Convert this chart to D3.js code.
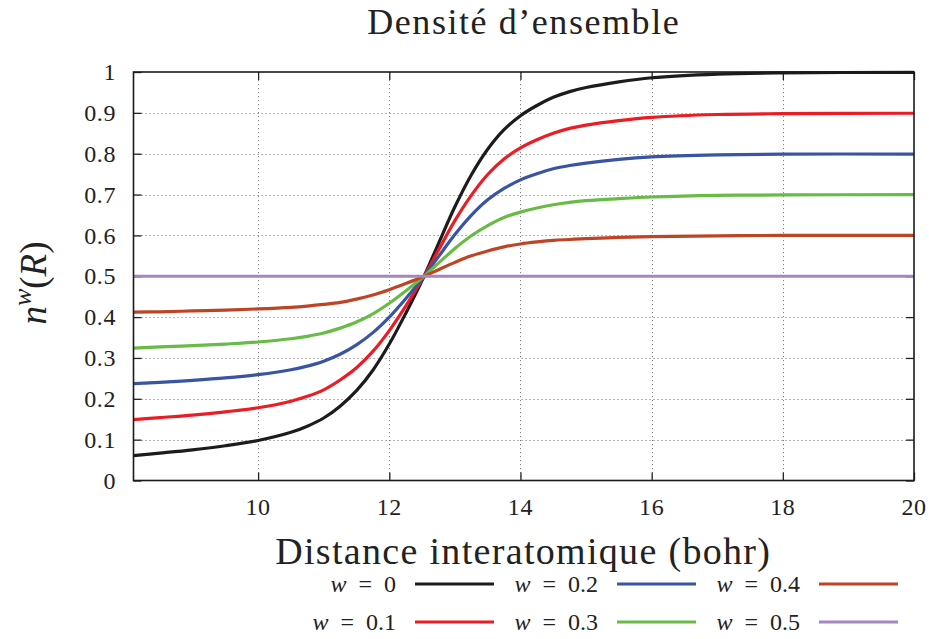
<!DOCTYPE html>
<html><head><meta charset="utf-8">
<script src="https://cdn.jsdelivr.net/npm/d3@7"></script>
<style>
body{margin:0;background:#fff}
svg text{font-family:"Liberation Serif","DejaVu Serif","Times New Roman",Times,serif;}
</style>
</head><body><svg id="c" width="929" height="639"></svg>
<script>
// ---- data ----
const xs   = [8.1, 8.5, 9, 9.5, 10, 10.5, 10.75, 11, 11.25, 11.5, 11.75, 12, 12.25, 12.53, 12.75, 13, 13.25, 13.5, 13.75, 14, 14.25, 14.5, 14.75, 15, 15.5, 16, 17, 18, 20];
const w0_0 = [0.061,0.067,0.075,0.085,0.098,0.118,0.133,0.153,0.182,0.220,0.270,0.334,0.409,0.5,0.580,0.670,0.748,0.811,0.859,0.893,0.918,0.938,0.952,0.962,0.976,0.986,0.995,0.998,0.999];
const w0_1 = [0.149,0.154,0.160,0.168,0.178,0.194,0.206,0.222,0.246,0.276,0.316,0.367,0.427,0.5,0.564,0.636,0.698,0.749,0.787,0.814,0.834,0.850,0.862,0.870,0.881,0.889,0.896,0.898,0.899];
const w0_2 = [0.237,0.240,0.245,0.251,0.259,0.271,0.280,0.292,0.309,0.332,0.362,0.400,0.445,0.5,0.548,0.602,0.649,0.687,0.715,0.736,0.751,0.763,0.771,0.777,0.786,0.792,0.797,0.799,0.799];
const w0_3 = [0.324,0.327,0.330,0.334,0.339,0.347,0.353,0.361,0.373,0.388,0.408,0.434,0.464,0.5,0.532,0.568,0.599,0.624,0.644,0.657,0.667,0.675,0.681,0.685,0.690,0.694,0.698,0.699,0.700];
const w0_4 = [0.412,0.413,0.415,0.417,0.420,0.424,0.427,0.431,0.436,0.444,0.454,0.467,0.482,0.5,0.516,0.534,0.550,0.562,0.572,0.579,0.584,0.588,0.590,0.592,0.595,0.597,0.599,0.600,0.600];
const w0_5 = [0.5,0.5,0.5,0.5,0.5,0.5,0.5,0.5,0.5,0.5,0.5,0.5,0.5,0.5,0.5,0.5,0.5,0.5,0.5,0.5,0.5,0.5,0.5,0.5,0.5,0.5,0.5,0.5,0.5];
const seriesW      = ["0", "0.1", "0.2", "0.3", "0.4", "0.5"];
const seriesValues = [w0_0, w0_1, w0_2, w0_3, w0_4, w0_5];
const seriesColors = ["#1c1c1c", "#ec1c24", "#3a54a4", "#68bb45", "#bd4526", "#a486c2"];
const xTicks       = [10, 12, 14, 16, 18, 20];
const xTickLabels  = ["10", "12", "14", "16", "18", "20"];
const yTicks       = [0, 0.1, 0.2, 0.3, 0.4, 0.5, 0.6, 0.7, 0.8, 0.9, 1];
const yTickLabels  = ["0", "0.1", "0.2", "0.3", "0.4", "0.5", "0.6", "0.7", "0.8", "0.9", "1"];
const titleText    = "Densité d’ensemble";
const xTitleText   = "Distance interatomique (bohr)";

// ---- layout ----
const svg = d3.select("#c");
const L = 133.5, R = 914, T = 72, B = 480.5;
const x = d3.scaleLinear().domain([8.1, 20]).range([L, R]);
const y = d3.scaleLinear().domain([0, 1]).range([B, T]);

// widen text to a target width with letter spacing (keeps glyph height)
function spread(sel, target) {
  const w = sel.node().getComputedTextLength();
  const n = sel.text().length;
  if (w < target) sel.style("letter-spacing", ((target - w) / n) + "px");
}

// grid
const grid = svg.append("g").attr("stroke", "#808080").attr("stroke-width", 1).attr("stroke-dasharray", "1.2,2.8");
grid.selectAll("line.gx").data(xTicks.filter(d => d < 20)).enter().append("line")
  .attr("x1", d => Math.round(x(d)) + 0.5).attr("x2", d => Math.round(x(d)) + 0.5)
  .attr("y1", T).attr("y2", B);
grid.selectAll("line.gy").data(yTicks.filter(d => d > 0 && d < 1)).enter().append("line")
  .attr("y1", d => Math.round(y(d)) + 0.5).attr("y2", d => Math.round(y(d)) + 0.5)
  .attr("x1", L).attr("x2", R);

// axes (ticks inside, mirrored)
const tk = 8;
const axL = svg.append("g").attr("transform", `translate(${L},0)`)
  .call(d3.axisRight(y).tickValues(yTicks).tickSize(tk).tickFormat(""));
const axR = svg.append("g").attr("transform", `translate(${R},0)`)
  .call(d3.axisLeft(y).tickValues(yTicks).tickSize(tk).tickFormat(""));
const axB = svg.append("g").attr("transform", `translate(0,${B})`)
  .call(d3.axisTop(x).tickValues(xTicks).tickSize(tk).tickFormat(""));
const axT = svg.append("g").attr("transform", `translate(0,${T})`)
  .call(d3.axisBottom(x).tickValues(xTicks).tickSize(tk).tickFormat(""));
[axL, axR, axB, axT].forEach(a => {
  a.select(".domain").remove();
  a.selectAll("line").attr("stroke", "#222").attr("stroke-width", 1.3);
});

// tick labels
svg.append("g").selectAll("text").data(yTicks).enter().append("text")
  .attr("x", 116).attr("y", d => y(d)).attr("dy", "0.34em")
  .attr("text-anchor", "end").style("font-size", "24px").style("letter-spacing", "0.6px").attr("fill", "#222")
  .text((d, i) => yTickLabels[i]);
svg.append("g").selectAll("text").data(xTicks).enter().append("text")
  .attr("x", d => x(d)).attr("y", 515)
  .attr("text-anchor", "middle").style("font-size", "24px").style("letter-spacing", "0.6px").attr("fill", "#222")
  .text((d, i) => xTickLabels[i]);

// curves
const line = d3.line().x(d => x(d[0])).y(d => y(d[1])).curve(d3.curveCatmullRom.alpha(0.5));
svg.append("defs").append("clipPath").attr("id", "clip").append("rect")
  .attr("x", L).attr("y", T - 2).attr("width", R - L).attr("height", B - T + 4);
const curves = svg.append("g").attr("clip-path", "url(#clip)");
seriesValues.forEach((vals, i) => {
  curves.append("path").datum(xs.map((xv, j) => [xv, vals[j]]))
    .attr("d", line).attr("fill", "none")
    .attr("stroke", seriesColors[i]).attr("stroke-width", 3.2)
    .attr("stroke-linejoin", "round");
});

// border
svg.append("rect").attr("x", L).attr("y", T).attr("width", R - L).attr("height", B - T)
  .attr("fill", "none").attr("stroke", "#1a1a1a").attr("stroke-width", 1.6);

// title
const title = svg.append("text").attr("x", (L + R) / 2).attr("y", 34)
  .attr("text-anchor", "middle").style("font-size", "36px").attr("fill", "#222")
  .text(titleText);
spread(title, 313);

// x axis title
const xt = svg.append("text").attr("x", (L + R) / 2 - 0.5).attr("y", 564)
  .attr("text-anchor", "middle").style("font-size", "38px").attr("fill", "#222")
  .text(xTitleText);
spread(xt, 496);

// y axis title n^w(R)
const yl = svg.append("text").attr("transform", "translate(46,283) rotate(-90)")
  .attr("text-anchor", "middle").style("font-size", "37px").attr("fill", "#222");
yl.append("tspan").style("font-style", "italic").text("n");
yl.append("tspan").style("font-style", "italic").style("font-size", "26px").attr("dy", -15).text("w");
yl.append("tspan").attr("dy", 15).text("(");
yl.append("tspan").style("font-style", "italic").text("R");
yl.append("tspan").text(")");

// legend
const legG = svg.append("g");
seriesW.forEach((w, i) => {
  const col = Math.floor(i / 2), row = i % 2;
  const tx = 396 + col * 202, ly = 584 + row * 38;
  const t = legG.append("text").attr("x", tx).attr("y", ly).attr("dy", "0.34em")
    .attr("text-anchor", "end").style("font-size", "24px").attr("fill", "#222");
  t.append("tspan").style("font-style", "italic").text("w");
  t.append("tspan").text("\u2002=\u2002" + w);
  legG.append("line").attr("x1", tx + 19).attr("x2", tx + 98).attr("y1", ly).attr("y2", ly)
    .attr("stroke", seriesColors[i]).attr("stroke-width", 3.2);
});
</script>
</body></html>
